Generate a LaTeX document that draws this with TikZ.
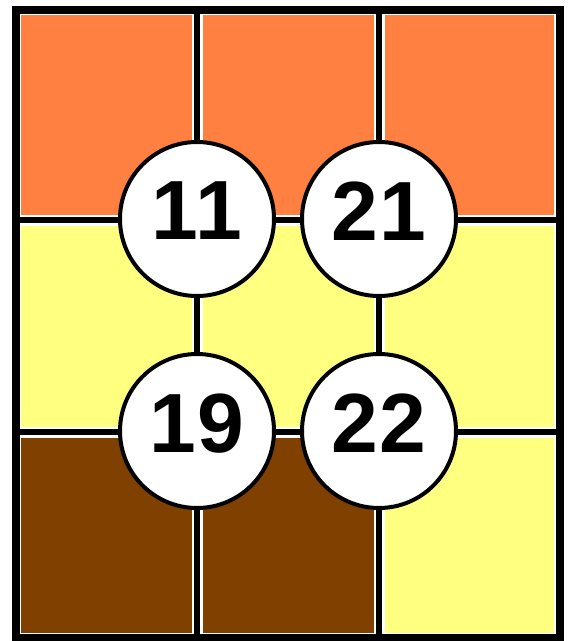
\documentclass[tikz,border=0pt]{standalone}
\usepackage{fontspec}
\newfontfamily\numfont{Liberation Sans}[LetterSpace=2]
\definecolor{cOrange}{RGB}{255,128,64}
\definecolor{cYellow}{RGB}{255,255,128}
\definecolor{cBrown}{RGB}{128,64,0}
\begin{document}
\begin{tikzpicture}[x=1pt,y=-1pt,
  gridline/.style={line width=6.5pt,black},
  outer/.style={line width=8pt,black},
  num/.style={circle,draw=black,fill=white,line width=4pt,minimum size=154pt,inner sep=0pt,
    text depth=16pt,
    font=\numfont\bfseries\fontsize{84}{84}\selectfont}]
\useasboundingbox (0,0) rectangle (571,641);
\fill[white] (0,0) rectangle (571,641);
% cell fills (inset to leave thin white seams)
\def\g{5.5}
\fill[cOrange] (15.5+\g,9.5+\g) rectangle (197-\g,220-\g);
\fill[cOrange] (197+\g,9.5+\g) rectangle (379-\g,220-\g);
\fill[cOrange] (379+\g,9.5+\g) rectangle (559.5-\g,220-\g);
\fill[cYellow] (15.5+\g,220+\g) rectangle (197-\g,432-\g);
\fill[cYellow] (197+\g,220+\g) rectangle (379-\g,432-\g);
\fill[cYellow] (379+\g,220+\g) rectangle (559.5-\g,432-\g);
\fill[cBrown] (15.5+\g,432+\g) rectangle (197-\g,638-\g);
\fill[cBrown] (197+\g,432+\g) rectangle (379-\g,638-\g);
\fill[cYellow] (379+\g,432+\g) rectangle (559.5-\g,638-\g);
% grid lines
\draw[gridline] (197,9.5) -- (197,638);
\draw[gridline] (379,9.5) -- (379,638);
\draw[gridline] (15.5,220) -- (559.5,220);
\draw[gridline] (15.5,432) -- (559.5,432);
\draw[outer] (15.5,9.5) rectangle (559.5,638);
% numbered circles
\node[num] (n11) at (197,219) {11};
\node[num] (n21) at (379,219) {21};
\node[num] (n19) at (197,431) {19};
\node[num] (n22) at (379,431) {22};
\end{tikzpicture}
\end{document}
